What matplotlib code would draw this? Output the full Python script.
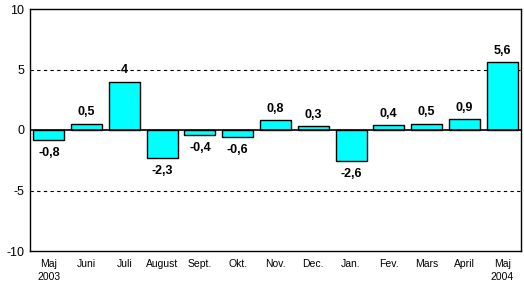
import numpy as np
import matplotlib.pyplot as plt

months = ["Maj\n2003", "Juni", "Juli", "August", "Sept.", "Okt.", "Nov.", "Dec.",
          "Jan.", "Fev.", "Mars", "April", "Maj\n2004"]
values = [-0.8, 0.5, 4, -2.3, -0.4, -0.6, 0.8, 0.3, -2.6, 0.4, 0.5, 0.9, 5.6]
labels = ["-0,8", "0,5", "4", "-2,3", "-0,4", "-0,6", "0,8", "0,3",
          "-2,6", "0,4", "0,5", "0,9", "5,6"]

fig = plt.figure(figsize=(5.24, 2.83), dpi=100)
ax = fig.add_axes([30/524, 1-251/283, 491/524, 242/283])

x = np.arange(len(values))
ax.bar(x, values, width=0.82, color="#00ffff", edgecolor="black", linewidth=1, zorder=3)

ax.axhline(0, color="black", linewidth=1.2, zorder=4)
for yy in [5, -5]:
    ax.axhline(yy, color="black", linewidth=0.8, linestyle=(0, (3, 3)), zorder=2)

for xi, v, lab in zip(x, values, labels):
    if v >= 0:
        ax.annotate(lab, (xi, v), xytext=(0, 4), textcoords="offset points",
                    ha="center", va="bottom", fontsize=9, fontweight="bold",
                    family="Liberation Sans", zorder=5)
    else:
        ax.annotate(lab, (xi, v), xytext=(0, -5), textcoords="offset points",
                    ha="center", va="top", fontsize=9, fontweight="bold",
                    family="Liberation Sans", zorder=5)

ax.set_xlim(-0.5, len(values) - 0.5)
ax.set_ylim(-10, 10)
ax.set_yticks([-10, -5, 0, 5, 10])
ax.set_yticklabels(["-10", "-5", "0", "5", "10"], fontsize=9, family="Liberation Sans")
ax.set_xticks(x)
ax.set_xticklabels(months, fontsize=7.5, family="Liberation Sans", linespacing=1.3)
ax.tick_params(axis="both", length=0)
ax.tick_params(axis="x", pad=6)
ax.tick_params(axis="y", pad=4)
for s in ax.spines.values():
    s.set_linewidth(1)

fig.savefig("out.png", dpi=100)
